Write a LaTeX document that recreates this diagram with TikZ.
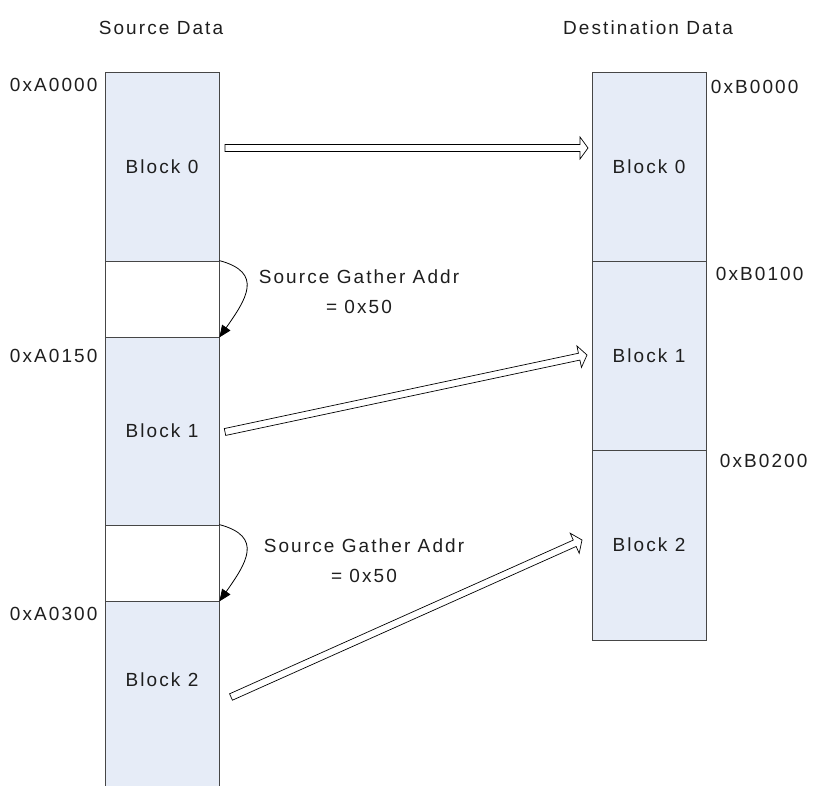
\documentclass[tikz,border=0pt]{standalone}
\usepackage{fontspec}
\setmainfont{Liberation Sans}[LetterSpace=11]
\usepackage{xcolor}
\usepackage{tikz}
\usetikzlibrary{calc,arrows.meta}
\definecolor{blkfill}{RGB}{230,236,247}
\definecolor{edge}{RGB}{70,70,70}
\definecolor{txt}{RGB}{30,30,30}
\tikzset{
	every node/.style={font=\fontsize{19}{30}\selectfont,text=txt},
	blk/.style={draw=edge,fill=blkfill,line width=0.8pt,minimum width=114pt,inner sep=0pt},
	gapbox/.style={draw=edge,fill=white,line width=0.8pt,minimum width=114pt,inner sep=0pt},
	hollow/.style={draw=black,fill=white,line width=0.7pt,line join=miter},
	gather/.style={line width=0.8pt,-{Triangle[length=12pt,width=10pt]},out=-15,in=55,looseness=1.55}
}
% block arrow with an open head
\newcommand{\hollowarrow}[2]{%
	\coordinate (hb) at ($(#2)!8pt!(#1)$);
	\draw[hollow] ($(#1)!3.5pt!90:(#2)$) -- ($(hb)!3.5pt!90:(#2)$) -- ($(hb)!11pt!90:(#2)$) -- (#2)
	-- ($(hb)!11pt!-90:(#2)$) -- ($(hb)!3.5pt!-90:(#2)$) -- ($(#1)!3.5pt!-90:(#2)$) -- cycle;}

\begin{document}
\begin{tikzpicture}[x=1pt,y=-1pt]
	\useasboundingbox (0,0) rectangle (814,786);
	% source column
	\node[blk,minimum height=189pt]   (s0) at (162,166.5) {Block 0};
	\node[gapbox,minimum height=76pt] (g0) at (162,299)   {};
	\node[blk,minimum height=188pt]   (s1) at (162,431)   {Block 1};
	\node[gapbox,minimum height=76pt] (g1) at (162,563)   {};
	\fill[blkfill] (105,601) rectangle (219,790);
	\draw[edge,line width=0.8pt] (105,790)--(105,601)--(219,601)--(219,790);
	\node (s2) at (162,680) {Block 2};
	% destination column
	\node[blk,minimum height=189pt] (d0) at (649,166.5) {Block 0};
	\node[blk,minimum height=189pt] (d1) at (649,355.5) {Block 1};
	\node[blk,minimum height=190pt] (d2) at (649,545)   {Block 2};
	% titles and addresses
	\node (srct) at (161,28) {Source Data};
	\node (dstt) at (648,28) {Destination Data};
	\node[anchor=east] (a0) at (101,85)  {0xA0000};
	\node[anchor=east] (a1) at (101,356) {0xA0150};
	\node[anchor=east] (a2) at (101,614) {0xA0300};
	\node[anchor=east] (b0) at (802,87)  {0xB0000};
	\node[anchor=east] (b1) at (807,274) {0xB0100};
	\node[anchor=east] (b2) at (811,461) {0xB0200};
	% gather offsets
	\draw[gather] (g0.north east) to (g0.south east);
	\draw[gather] (g1.north east) to (g1.south east);
	\node[align=center] (gt0) at (359,292) {Source Gather Addr\\= 0x50};
	\node[align=center] (gt1) at (364,561) {Source Gather Addr\\= 0x50};
	% copy arrows
	\coordinate (c0s) at (225,148); \coordinate (c0e) at (588,148);
	\coordinate (c1s) at (225,432); \coordinate (c1e) at (587,355);
	\coordinate (c2s) at (231,697); \coordinate (c2e) at (582,540);
	\hollowarrow{c0s}{c0e}
	\hollowarrow{c1s}{c1e}
	\hollowarrow{c2s}{c2e}
\end{tikzpicture}
\end{document}
